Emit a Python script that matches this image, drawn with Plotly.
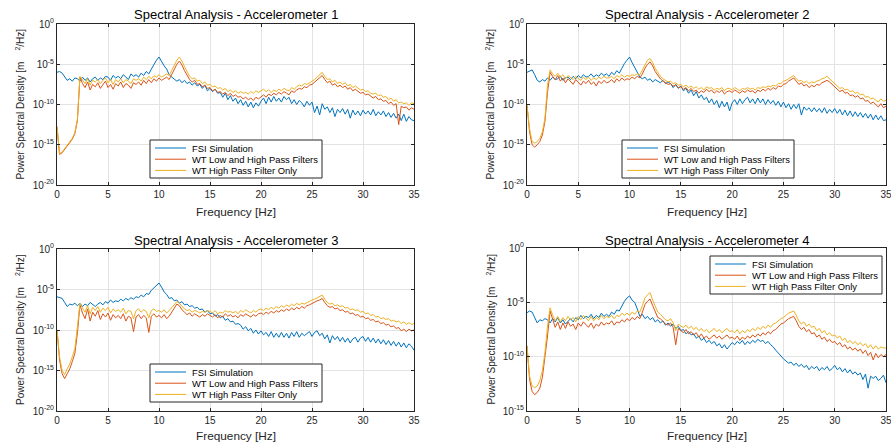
import numpy as np
import plotly.graph_objects as go

# ---------------- data (log10 of PSD, m^2/Hz), one value every 0.25 Hz from 0 to 35 Hz ----------------
FREQ_STEP = 0.25
SERIES_NAMES = ["FSI Simulation", "WT Low and High Pass Filters", "WT High Pass Filter Only"]
X_TICKS = [0, 5, 10, 15, 20, 25, 30, 35]

fsi1 = [
    -6.0, -5.9, -6.1, -6.5, -7.0, -6.8, -7.1, -6.7,
    -6.8, -7.1, -6.6, -7.0, -6.7, -7.2, -6.8, -6.6,
    -7.0, -6.7, -6.9, -6.5, -6.6, -7.0, -6.4, -6.7,
    -6.5, -6.8, -6.3, -6.6, -6.9, -6.2, -6.5, -6.3,
    -6.6, -6.1, -6.4, -5.9, -6.2, -5.6, -5.0, -4.5,
    -4.1, -4.7, -5.2, -5.6, -6.3, -6.6, -6.9, -7.1,
    -6.9, -7.3, -7.0, -7.4, -7.2, -7.6, -7.3, -7.7,
    -7.5, -8.0, -7.6, -8.3, -8.0, -8.4, -8.1, -8.6,
    -8.5, -9.1, -8.6, -9.4, -8.9, -9.6, -9.2, -9.9,
    -9.4, -10.1, -9.6, -10.3, -9.7, -10.4, -9.8, -10.2,
    -9.6, -9.2, -9.9, -9.1, -9.7, -9.0, -9.6, -9.2,
    -9.7, -9.0, -9.4, -9.1, -9.9, -9.4, -10.0, -9.5,
    -9.8, -10.3, -9.6, -10.1, -9.7, -11.0, -10.2, -11.3,
    -9.9, -10.6, -10.3, -11.0, -10.4, -11.5, -10.6, -11.0,
    -10.5, -11.2, -10.6, -11.7, -10.7, -11.3, -10.8, -11.4,
    -10.7, -11.2, -10.8, -11.3, -10.6, -11.4, -10.9, -11.3,
    -10.8, -11.5, -11.0, -11.6, -11.1, -11.7, -11.2, -12.0,
    -11.2, -12.1, -11.5, -11.9, -12.0,
]
lh1 = [
    -12.8, -16.2, -16.0, -15.6, -15.2, -14.8, -14.3, -13.6,
    -12.0, -6.6, -7.4, -7.9, -7.2, -8.2, -7.5, -7.8,
    -7.3, -8.0, -7.6, -7.1, -7.9, -7.5, -8.1, -7.4,
    -7.7, -7.2, -7.9, -7.4, -7.6, -8.0, -7.3, -7.5,
    -7.2, -7.6, -7.0, -7.4, -6.9, -7.3, -6.8, -7.1,
    -6.7, -7.0, -6.8, -6.6, -6.9, -6.3, -5.6, -5.0,
    -4.6, -5.1, -5.8, -6.3, -6.9, -7.2, -7.0, -7.5,
    -7.4, -7.8, -7.6, -8.0, -7.9, -8.3, -8.1, -8.5,
    -8.4, -8.7, -8.5, -8.9, -8.6, -9.0, -8.8, -9.1,
    -9.0, -9.3, -9.1, -9.4, -9.2, -9.5, -9.1, -9.3,
    -9.0, -8.8, -9.1, -8.7, -8.9, -8.6, -8.8, -8.5,
    -8.7, -8.4, -8.6, -8.8, -8.3, -8.5, -8.2, -8.0,
    -8.1, -7.8, -7.9, -7.6, -7.5, -7.2, -7.0, -6.7,
    -6.4, -6.9, -7.3, -7.1, -7.6, -7.4, -7.8, -7.6,
    -7.9, -7.7, -8.1, -7.9, -8.3, -8.1, -8.4, -8.6,
    -8.5, -8.8, -8.7, -9.0, -9.2, -9.0, -9.4, -9.3,
    -9.6, -9.5, -9.9, -9.7, -10.1, -9.9, -12.5, -10.2,
    -10.4, -10.3, -10.7, -10.4, -10.6,
]
hp1 = [
    -12.7, -16.1, -15.9, -15.5, -15.1, -14.7, -14.2, -13.5,
    -11.8, -6.5, -7.0, -7.4, -6.8, -7.6, -7.0, -7.2,
    -6.9, -7.4, -7.0, -6.7, -7.3, -6.9, -7.5, -6.9,
    -7.2, -6.8, -7.3, -6.9, -7.1, -7.4, -6.8, -7.0,
    -6.8, -7.1, -6.6, -6.9, -6.5, -6.8, -6.4, -6.6,
    -6.3, -6.6, -6.4, -6.2, -6.4, -5.8, -5.1, -4.5,
    -4.1, -4.6, -5.3, -5.9, -6.5, -6.8, -6.7, -7.1,
    -7.0, -7.4, -7.2, -7.6, -7.5, -7.8, -7.7, -8.0,
    -7.9, -8.2, -8.0, -8.4, -8.2, -8.5, -8.3, -8.6,
    -8.4, -8.6, -8.5, -8.7, -8.4, -8.6, -8.3, -8.5,
    -8.3, -8.1, -8.4, -8.2, -8.5, -8.2, -8.4, -8.1,
    -8.3, -8.0, -8.2, -8.3, -7.9, -8.1, -7.8, -7.6,
    -7.7, -7.4, -7.5, -7.3, -7.2, -6.9, -6.6, -6.3,
    -6.0, -6.5, -6.9, -6.8, -7.2, -7.0, -7.4, -7.2,
    -7.5, -7.3, -7.7, -7.5, -7.9, -7.7, -8.0, -8.2,
    -8.1, -8.4, -8.3, -8.6, -8.7, -8.6, -8.9, -8.8,
    -9.1, -9.0, -9.4, -9.2, -9.6, -9.4, -9.8, -9.7,
    -9.9, -9.8, -10.1, -9.8, -9.9,
]

fsi2 = [
    -6.0, -5.8, -5.7, -6.3, -7.0, -7.2, -6.9, -7.1,
    -6.7, -7.0, -6.6, -6.9, -6.8, -6.5, -7.0, -6.7,
    -6.6, -6.9, -6.5, -6.8, -6.4, -6.7, -6.3, -6.6,
    -6.5, -6.2, -6.6, -6.3, -6.5, -6.1, -6.4, -6.2,
    -6.5, -6.0, -6.3, -5.8, -6.1, -5.5, -4.9, -4.5,
    -4.1, -4.8, -5.4, -5.9, -6.6, -6.8, -6.6, -7.0,
    -6.8, -7.2, -6.9, -7.1, -7.3, -7.0, -7.4, -7.2,
    -7.4, -7.9, -7.5, -8.0, -7.7, -8.3, -8.0, -8.6,
    -8.2, -8.9, -8.4, -9.2, -8.8, -9.4, -9.1, -9.8,
    -9.3, -10.0, -9.5, -10.4, -9.6, -10.3, -9.7, -10.8,
    -9.8, -9.4, -10.0, -9.3, -9.9, -9.4, -9.1, -9.8,
    -9.3, -9.9, -9.2, -9.8, -9.3, -10.0, -9.4, -9.9,
    -9.5, -10.1, -9.6, -10.3, -9.7, -10.4, -9.9, -10.6,
    -10.0, -10.5, -9.9, -11.3, -10.3, -10.7, -10.4, -10.9,
    -10.4, -10.9, -10.5, -11.0, -10.4, -11.1, -10.6, -11.0,
    -10.5, -11.1, -10.6, -11.3, -10.7, -11.4, -10.8, -11.5,
    -10.9, -11.5, -11.0, -11.6, -11.1, -11.7, -11.2, -11.9,
    -11.3, -11.9, -11.4, -12.0, -11.9,
]
lh2 = [
    -10.1, -13.4, -15.0, -15.3, -15.0, -14.6, -13.8, -12.1,
    -8.5, -6.0, -6.5, -6.9, -6.4, -7.1, -6.7, -7.3,
    -6.8, -7.2, -7.5, -6.9, -7.3, -7.6, -7.1, -7.4,
    -7.0, -7.5, -7.2, -7.7, -7.1, -7.4, -7.0, -7.3,
    -7.2, -6.9, -7.3, -6.8, -7.1, -6.7, -7.0, -6.8,
    -6.9, -6.6, -6.8, -6.5, -6.7, -6.2, -5.5, -5.0,
    -4.7, -5.2, -5.9, -6.4, -6.8, -7.1, -7.3, -7.5,
    -7.4, -7.7, -7.6, -7.9, -7.8, -8.1, -7.9, -8.3,
    -8.0, -8.4, -8.2, -8.6, -8.3, -8.5, -8.1, -8.4,
    -8.2, -8.6, -8.3, -8.5, -8.2, -8.7, -8.4, -8.3,
    -8.5, -8.2, -8.4, -8.6, -8.3, -8.5, -8.2, -8.4,
    -8.3, -8.6, -8.2, -8.4, -8.1, -8.3, -8.0, -8.2,
    -7.9, -8.1, -7.7, -7.8, -7.5, -7.4, -7.1, -6.9,
    -6.7, -7.1, -7.5, -7.3, -7.7, -7.5, -7.9, -7.6,
    -7.8, -7.5, -7.6, -7.3, -7.1, -7.0, -7.2, -7.5,
    -7.9, -8.1, -8.4, -8.2, -8.6, -8.5, -8.9, -8.8,
    -9.1, -8.9, -9.3, -9.2, -9.6, -9.5, -9.9, -9.7,
    -10.0, -10.3, -9.9, -10.4, -10.2,
]
hp2 = [
    -10.1, -13.0, -14.6, -14.8, -14.6, -14.2, -13.4, -11.7,
    -7.6, -5.7, -6.2, -6.5, -6.1, -6.6, -6.3, -6.8,
    -6.4, -6.7, -6.9, -6.5, -6.8, -7.0, -6.6, -6.9,
    -6.6, -7.0, -6.7, -6.9, -6.6, -6.8, -6.5, -6.7,
    -6.7, -6.5, -6.8, -6.4, -6.6, -6.3, -6.6, -6.4,
    -6.5, -6.3, -6.4, -6.2, -6.3, -5.7, -4.9, -4.5,
    -4.3, -4.8, -5.5, -6.0, -6.5, -6.8, -7.0, -7.2,
    -7.1, -7.4, -7.3, -7.6, -7.5, -7.8, -7.6, -7.9,
    -7.7, -8.0, -7.8, -8.1, -7.9, -8.2, -7.8, -8.0,
    -7.9, -8.2, -8.0, -8.1, -7.9, -8.3, -8.0, -8.0,
    -8.2, -7.9, -8.1, -8.3, -8.0, -8.1, -7.9, -8.1,
    -8.0, -8.2, -7.9, -8.0, -7.8, -7.9, -7.7, -7.8,
    -7.6, -7.7, -7.4, -7.4, -7.1, -7.0, -6.8, -6.6,
    -6.4, -6.8, -7.1, -7.0, -7.3, -7.1, -7.4, -7.2,
    -7.3, -7.1, -7.0, -6.8, -6.7, -6.5, -6.8, -7.1,
    -7.5, -7.7, -8.0, -7.9, -8.2, -8.1, -8.4, -8.3,
    -8.6, -8.5, -8.8, -8.7, -9.1, -9.0, -9.3, -9.2,
    -9.4, -9.7, -9.3, -9.6, -9.5,
]

fsi3 = [
    -5.9, -6.0, -6.1, -6.6, -7.1, -6.8, -6.9, -6.7,
    -7.0, -6.7, -7.1, -6.8, -7.0, -6.6, -6.9, -7.1,
    -6.8, -6.6, -6.9, -6.5, -6.7, -6.3, -6.6, -6.4,
    -6.5, -6.2, -6.4, -6.1, -6.3, -6.0, -6.2, -5.9,
    -6.0, -5.7, -5.9, -5.5, -5.6, -5.1, -4.8, -4.5,
    -4.2, -4.7, -5.3, -5.6, -6.1, -6.0, -6.4, -6.3,
    -6.7, -6.5, -6.9, -6.8, -7.1, -7.0, -7.3, -7.2,
    -7.5, -7.4, -7.8, -7.6, -8.0, -7.9, -8.3, -8.1,
    -8.5, -8.3, -8.8, -8.6, -9.0, -8.9, -9.3, -9.2,
    -9.4, -9.9, -9.6, -10.1, -9.8, -10.4, -10.0, -10.5,
    -10.1, -10.6, -10.3, -10.8, -10.2, -10.9, -10.4, -10.9,
    -10.3, -10.9, -10.4, -11.0, -10.3, -10.8, -10.2, -10.9,
    -10.4, -10.7, -10.5, -10.2, -10.8, -10.3, -10.1, -10.7,
    -10.4, -11.1, -10.6, -11.6, -10.7, -11.2, -10.8, -11.4,
    -10.9, -11.5, -11.0, -11.6, -11.1, -10.9, -11.5, -11.0,
    -10.8, -11.4, -10.9, -11.5, -11.0, -11.6, -11.1, -11.7,
    -11.2, -11.8, -11.3, -11.9, -11.4, -12.0, -11.5, -12.1,
    -11.6, -12.2, -11.7, -12.0, -12.5,
]
lh3 = [
    -10.0, -13.7, -15.4, -16.0, -15.4, -14.8, -13.9, -12.9,
    -10.4, -6.9, -7.9, -8.6, -7.4, -8.9, -7.8, -8.3,
    -7.6, -8.7, -8.0, -8.4, -7.9, -8.8, -8.1, -8.5,
    -8.2, -8.6, -8.0, -8.9, -8.3, -8.5, -10.2, -8.4,
    -8.1, -8.6, -8.2, -8.5, -10.3, -8.3, -8.0, -8.4,
    -8.2, -8.5, -8.1, -8.6, -8.3, -7.8, -7.2, -6.8,
    -7.0, -7.5, -7.8, -8.1, -7.9, -8.3, -8.0, -8.2,
    -8.4, -8.1, -8.3, -8.0, -8.2, -8.4, -8.1, -8.5,
    -8.2, -8.4, -8.0, -8.3, -8.1, -8.4, -8.2, -8.5,
    -8.1, -8.3, -8.0, -8.2, -8.4, -8.1, -8.3, -8.0,
    -7.9, -8.1, -7.8, -8.0, -7.7, -7.9, -7.6, -7.8,
    -7.5, -7.7, -7.4, -7.6, -7.3, -7.5, -7.2, -7.4,
    -7.1, -7.3, -7.0, -6.9, -6.7, -6.6, -6.4, -6.3,
    -6.1, -6.6, -7.0, -7.2, -7.1, -7.4, -7.3, -7.6,
    -7.5, -7.8, -7.7, -8.0, -7.9, -8.2, -8.1, -8.4,
    -8.3, -8.6, -8.5, -8.8, -8.7, -9.0, -8.9, -9.2,
    -9.1, -9.4, -9.3, -9.6, -9.5, -9.8, -9.7, -10.1,
    -9.9, -10.2, -9.9, -10.1, -10.0,
]
hp3 = [
    -10.0, -13.3, -15.0, -15.5, -14.8, -14.2, -13.3, -12.3,
    -9.6, -6.7, -7.3, -7.8, -7.0, -8.0, -7.2, -7.6,
    -7.1, -7.8, -7.3, -7.6, -7.2, -7.9, -7.4, -7.7,
    -7.5, -7.8, -7.3, -8.0, -7.6, -7.7, -8.6, -7.6,
    -7.4, -7.8, -7.5, -7.7, -8.5, -7.6, -7.4, -7.7,
    -7.6, -7.8, -7.5, -7.9, -7.6, -7.2, -6.8, -6.5,
    -6.7, -7.1, -7.4, -7.6, -7.5, -7.8, -7.6, -7.7,
    -7.9, -7.7, -7.8, -7.6, -7.7, -7.9, -7.6, -8.0,
    -7.8, -7.9, -7.6, -7.8, -7.7, -7.9, -7.7, -8.0,
    -7.6, -7.8, -7.5, -7.7, -7.9, -7.6, -7.8, -7.5,
    -7.4, -7.6, -7.3, -7.5, -7.2, -7.4, -7.1, -7.3,
    -7.0, -7.2, -6.9, -7.1, -6.8, -7.0, -6.7, -6.9,
    -6.7, -6.8, -6.6, -6.5, -6.3, -6.2, -6.0, -5.9,
    -5.7, -6.2, -6.6, -6.8, -6.7, -7.0, -6.9, -7.1,
    -7.0, -7.3, -7.2, -7.5, -7.4, -7.6, -7.5, -7.8,
    -7.7, -8.0, -7.9, -8.2, -8.1, -8.4, -8.3, -8.6,
    -8.5, -8.7, -8.6, -8.9, -8.8, -9.0, -8.9, -9.2,
    -9.0, -9.3, -9.1, -9.3, -9.2,
]

fsi4 = [
    -5.95, -5.8, -5.9, -6.4, -6.9, -6.6, -6.7, -6.5,
    -6.6, -6.9, -6.5, -6.8, -6.4, -6.9, -6.6, -7.0,
    -6.7, -6.5, -6.8, -6.4, -6.6, -6.2, -6.5, -6.3,
    -6.4, -6.1, -6.5, -6.2, -6.4, -6.0, -6.3, -6.1,
    -6.3, -5.9, -6.1, -5.7, -5.8, -5.3, -4.9, -4.6,
    -4.4, -4.8, -5.0, -5.6, -6.3, -6.1, -6.5, -6.3,
    -6.6, -6.4, -6.8, -6.6, -6.9, -6.7, -7.1, -6.9,
    -7.2, -7.0, -7.4, -7.2, -7.6, -7.5, -7.9, -7.7,
    -8.0, -7.9, -8.3, -8.1, -8.5, -8.3, -8.7, -8.5,
    -8.8, -8.6, -9.0, -8.8, -9.2, -8.9, -9.3, -9.0,
    -8.7, -8.9, -8.6, -8.8, -8.5, -8.9, -8.6, -8.8,
    -8.5, -8.7, -8.4, -8.6, -8.5, -8.8, -8.6, -8.9,
    -9.1, -9.4, -9.7, -10.0, -10.2, -10.4, -10.6, -10.5,
    -10.8, -10.6, -10.9, -10.7, -11.0, -10.8, -11.2, -10.9,
    -11.1, -10.9, -11.3, -11.0, -11.2, -10.9, -11.3, -11.1,
    -10.8, -11.2, -11.0, -11.4, -11.1, -11.5, -11.2, -11.6,
    -11.4, -11.7, -11.5, -12.1, -11.6, -12.9, -11.8, -12.0,
    -11.8, -12.2, -12.0, -11.7, -12.4,
]
lh4 = [
    -9.0, -12.1, -13.2, -13.5, -13.3, -12.9, -11.9, -10.2,
    -8.1, -5.8, -6.6, -7.3, -6.8, -7.5, -6.9, -7.4,
    -6.8, -7.2, -7.0, -7.5, -6.9, -7.2, -6.8, -7.1,
    -7.3, -6.9, -7.4, -7.0, -7.2, -6.8, -7.1, -6.9,
    -7.0, -6.7, -7.1, -6.8, -6.9, -6.6, -6.8, -6.5,
    -6.7, -6.4, -6.6, -6.3, -6.5, -5.9, -5.2, -4.9,
    -4.7, -5.3, -5.9, -6.4, -6.5, -6.8, -7.0, -7.1,
    -6.9, -7.3, -8.9, -7.4, -7.6, -7.8, -7.5, -7.9,
    -7.7, -8.0, -7.8, -8.2, -7.9, -8.3, -8.1, -8.4,
    -8.2, -8.0, -8.3, -8.1, -8.4, -8.2, -8.0, -8.3,
    -8.2, -8.4, -8.1, -8.5, -8.2, -8.4, -8.1, -8.3,
    -8.0, -8.2, -7.9, -8.1, -7.8, -8.0, -7.7, -7.9,
    -7.6, -7.5, -7.2, -7.0, -6.9, -6.7, -6.5, -6.4,
    -6.3, -6.7, -7.2, -7.5, -7.3, -7.7, -7.5, -7.9,
    -7.8, -8.2, -8.0, -8.4, -8.2, -8.6, -8.4, -8.7,
    -8.6, -8.9, -8.7, -9.1, -8.9, -9.3, -9.1, -9.4,
    -9.2, -9.5, -9.3, -9.7, -9.4, -9.9, -9.6, -10.3,
    -9.7, -10.1, -9.8, -10.0, -9.8,
]
hp4 = [
    -9.0, -11.8, -12.7, -12.85, -12.7, -12.2, -11.3, -9.6,
    -7.2, -5.5, -6.2, -6.7, -6.3, -6.8, -6.4, -6.7,
    -6.3, -6.6, -6.4, -6.8, -6.3, -6.6, -6.2, -6.5,
    -6.7, -6.3, -6.7, -6.4, -6.6, -6.2, -6.5, -6.3,
    -6.4, -6.2, -6.5, -6.2, -6.3, -6.0, -6.2, -6.0,
    -6.2, -5.9, -6.1, -5.8, -5.9, -5.3, -4.6, -4.3,
    -4.1, -4.8, -5.4, -5.9, -6.1, -6.4, -6.6, -6.7,
    -6.5, -6.9, -7.6, -7.0, -7.2, -7.3, -7.1, -7.4,
    -7.2, -7.5, -7.3, -7.6, -7.4, -7.7, -7.5, -7.8,
    -7.6, -7.4, -7.7, -7.5, -7.8, -7.6, -7.4, -7.7,
    -7.6, -7.8, -7.5, -7.9, -7.6, -7.8, -7.5, -7.7,
    -7.4, -7.6, -7.3, -7.5, -7.2, -7.4, -7.1, -7.3,
    -7.0, -6.9, -6.7, -6.5, -6.4, -6.2, -6.0, -5.9,
    -5.8, -6.2, -6.7, -7.0, -6.8, -7.2, -7.0, -7.3,
    -7.2, -7.6, -7.4, -7.8, -7.6, -8.0, -7.8, -8.1,
    -8.0, -8.3, -8.1, -8.5, -8.3, -8.7, -8.5, -8.8,
    -8.6, -8.9, -8.7, -9.0, -8.8, -9.2, -8.9, -9.3,
    -9.0, -9.3, -9.1, -9.2, -9.2,
]

# ---------------- styling / layout ----------------
W, H = 891, 447
COLORS = ["#0072BD", "#D95319", "#EDB120"]
AXIS_COLOR = "#262626"
GRID_COLOR = "#e3e3e3"
FONT = "Liberation Sans, Arial, sans-serif"


def px(x):
    return x / W


def py(y):
    return 1 - y / H


panels = [
    dict(title="Spectral Analysis - Accelerometer 1", data=[fsi1, lh1, hp1],
         xpx=(57, 414), ypx=(24, 185), ymin=-20, title_y=15, xlab_y=212, ylab_x=20, legend=(150, 140)),
    dict(title="Spectral Analysis - Accelerometer 2", data=[fsi2, lh2, hp2],
         xpx=(527, 886), ypx=(24, 185), ymin=-20, title_y=15, xlab_y=212, ylab_x=490, legend=(622, 140)),
    dict(title="Spectral Analysis - Accelerometer 3", data=[fsi3, lh3, hp3],
         xpx=(57, 414), ypx=(249, 411), ymin=-20, title_y=240, xlab_y=436, ylab_x=20, legend=(150, 364)),
    dict(title="Spectral Analysis - Accelerometer 4", data=[fsi4, lh4, hp4],
         xpx=(527, 886), ypx=(248, 411), ymin=-15, title_y=240, xlab_y=436, ylab_x=490, legend=(710, 256)),
]

fig = go.Figure()
annotations = []
shapes = []
layout_axes = {}

for i, p in enumerate(panels, start=1):
    sfx = "" if i == 1 else str(i)
    xa, ya = "x" + sfx, "y" + sfx
    for name, vals, color in zip(SERIES_NAMES, p["data"], COLORS):
        v = np.array(vals, dtype=float)
        f = np.arange(len(v)) * FREQ_STEP
        fig.add_trace(go.Scatter(x=f, y=10.0 ** v, mode="lines", name=name,
                                 line=dict(color=color, width=1), xaxis=xa, yaxis=ya,
                                 showlegend=False, hoverinfo="skip"))
    exps = list(range(p["ymin"], 1, 5))
    common = dict(showline=True, linecolor=AXIS_COLOR, linewidth=1, mirror="ticks",
                  ticks="inside", ticklen=3, tickcolor=AXIS_COLOR, showgrid=True,
                  gridcolor=GRID_COLOR, gridwidth=1, zeroline=False, automargin=False,
                  ticklabeloverflow="allow",
                  tickfont=dict(family=FONT, size=10, color=AXIS_COLOR))
    layout_axes["xaxis" + sfx] = dict(common, domain=[px(p["xpx"][0]), px(p["xpx"][1])],
                                      range=[0, 35], tickmode="array", tickvals=X_TICKS,
                                      ticktext=[str(t) for t in X_TICKS], anchor=ya)
    layout_axes["yaxis" + sfx] = dict(common, domain=[py(p["ypx"][1]), py(p["ypx"][0])],
                                      type="log", range=[p["ymin"], 0], tickmode="array",
                                      tickvals=[10.0 ** e for e in exps],
                                      ticktext=[f"10<sup>{e}</sup>" for e in exps], anchor=xa)
    xc = (p["xpx"][0] + p["xpx"][1]) / 2
    yc = (p["ypx"][0] + p["ypx"][1]) / 2
    annotations.append(dict(text=p["title"], x=px(xc), y=py(p["title_y"]), xref="paper", yref="paper",
                            showarrow=False, xanchor="center", yanchor="middle",
                            font=dict(family=FONT, size=13, color="#000000")))
    annotations.append(dict(text="Frequency [Hz]", x=px(xc), y=py(p["xlab_y"]), xref="paper", yref="paper",
                            showarrow=False, xanchor="center", yanchor="middle",
                            font=dict(family=FONT, size=11.8, color=AXIS_COLOR)))
    annotations.append(dict(text="Power Spectral Density [m\u00a0\u00a0\u00a0\u00a0<sup>2</sup>/Hz]",
                            x=px(p["ylab_x"]), y=py(yc), xref="paper", yref="paper", textangle=-90,
                            showarrow=False, xanchor="center", yanchor="middle",
                            font=dict(family=FONT, size=10, color=AXIS_COLOR)))
    # legend box (drawn like MATLAB's compact legend)
    lx, ly = p["legend"]
    bw, bh, row = 172, 38, 11.2
    shapes.append(dict(type="rect", xref="paper", yref="paper", x0=px(lx), x1=px(lx + bw),
                       y0=py(ly), y1=py(ly + bh), line=dict(color=AXIS_COLOR, width=1),
                       fillcolor="white", layer="above"))
    for k, (name, color) in enumerate(zip(SERIES_NAMES, COLORS)):
        yy = ly + 8 + k * row
        shapes.append(dict(type="line", xref="paper", yref="paper", x0=px(lx + 5), x1=px(lx + 36),
                           y0=py(yy), y1=py(yy), line=dict(color=color, width=1), layer="above"))
        annotations.append(dict(text=name, x=px(lx + 40), y=py(yy), xref="paper", yref="paper",
                                showarrow=False, xanchor="left", yanchor="middle",
                                font=dict(family=FONT, size=9.4, color="#000000")))

fig.update_layout(
    width=W, height=H, margin=dict(l=0, r=0, t=0, b=0),
    paper_bgcolor="white", plot_bgcolor="white", showlegend=False,
    annotations=annotations, shapes=shapes, **layout_axes,
)

fig.write_html("out.html", config={"displayModeBar": False},
               post_script="document.body.style.margin='0';document.body.style.padding='0';"
                           "document.body.style.overflow='hidden';")
